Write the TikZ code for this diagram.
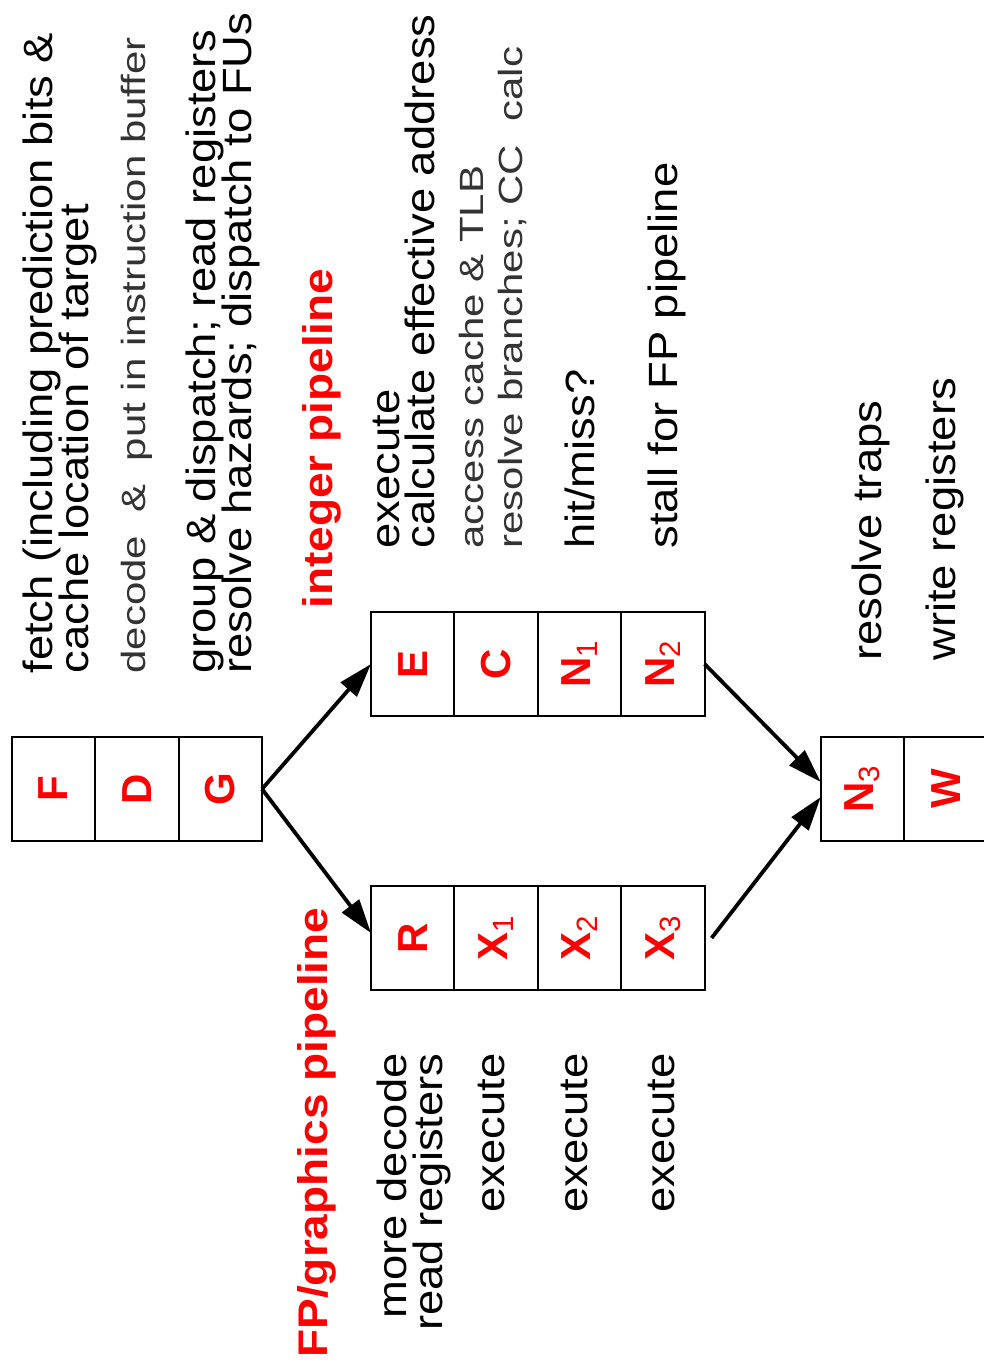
\documentclass[tikz,border=0pt]{standalone}
\usepackage{fontspec}
\setmainfont{Liberation Sans}
\usetikzlibrary{positioning,arrows.meta}
\definecolor{stagered}{RGB}{255,0,0}
\tikzset{
  cell/.style={draw, line width=1pt, minimum width=41.7pt, minimum height=52pt, inner sep=0pt, outer sep=0pt, text=stagered, font=\fontsize{21}{24}\selectfont\bfseries},
  note/.style={rotate=90, yscale=0.9, anchor=north west, align=left, inner sep=0pt, font=\fontsize{22.7}{19.5}\selectfont},
  thinnote/.style={rotate=90, yscale=0.8, anchor=north west, align=left, inner sep=0pt, text=black!80, font=\fontsize{21}{24.5}\selectfont},
  pipe/.style={note, text=stagered, font=\fontsize{23}{19.5}\selectfont\bfseries},
  flow/.style={-{Triangle[length=17pt, width=10.5pt]}, line width=1.9pt}
}
\begin{document}
\lineskiplimit=-100pt
\begin{tikzpicture}[x=0.5pt, y=-0.5pt]
	\useasboundingbox (0,0) rectangle (984,1372);
	\node[cell] (F) at (53.5,789) {\rotatebox{90}{F}};
	\node[cell, right=0pt of F] (D) {\rotatebox{90}{D}};
	\node[cell, right=0pt of D] (G) {\rotatebox{90}{G}};
	\node[cell] (E) at (412.7,664) {\rotatebox{90}{E}};
	\node[cell, right=0pt of E] (C) {\rotatebox{90}{C}};
	\node[cell, right=0pt of C] (N1) {\rotatebox{90}{N\textsubscript{\mdseries 1}}};
	\node[cell, right=0pt of N1] (N2) {\rotatebox{90}{N\textsubscript{\mdseries 2}}};
	\node[cell] (R) at (412.7,938) {\rotatebox{90}{R}};
	\node[cell, right=0pt of R] (X1) {\rotatebox{90}{X\textsubscript{\mdseries 1}}};
	\node[cell, right=0pt of X1] (X2) {\rotatebox{90}{X\textsubscript{\mdseries 2}}};
	\node[cell, right=0pt of X2] (X3) {\rotatebox{90}{X\textsubscript{\mdseries 3}}};
	\node[cell] (N3) at (862.5,789) {\rotatebox{90}{N\textsubscript{\mdseries 3}}};
	\node[cell, right=0pt of N3] (W) {\rotatebox{90}{W}};
	\draw[flow] (G.east) -- (E.west);
	\draw[flow] (G.east) -- ([yshift=2.5pt]R.west);
	\draw[flow] (N2.east) -- ([yshift=3.5pt]N3.west);
	\draw[flow] ([xshift=3.5pt]X3.east) -- ([yshift=-4pt]N3.west);
	\node[note] (fetchtxt) at (23,674) {fetch (including prediction bits \&\\cache location of target};
	\node[thinnote] (decodetxt) at (121,674) {decode\ \ \&\ \ put in instruction buffer};
	\node[note] (grouptxt) at (186,674) {group \& dispatch; read registers\\resolve hazards; dispatch to FUs};
	\node[pipe] (inttxt) at (302,609) {integer pipeline};
	\node[note] (exectxt) at (373,549) {execute\\calculate effective address};
	\node[thinnote] (accesstxt) at (459,549) {access cache \& TLB\\resolve branches; CC\ \ calc};
	\node[note] (hittxt) at (565,549) {hit/miss?};
	\node[note] (stalltxt) at (648,549) {stall for FP pipeline};
	\node[note] (trapstxt) at (852,661) {resolve traps};
	\node[note] (writetxt) at (926,661) {write registers};
	\node[pipe] (fptxt) at (297,1358) {FP/graphics pipeline};
	\node[note, anchor=north east, align=right] (moretxt) at (377,1053) {more decode\\read registers};
	\node[note, anchor=north east] (exaa) at (478,1053) {execute};
	\node[note, anchor=north east] (exbb) at (561,1053) {execute};
	\node[note, anchor=north east] (excc) at (648,1053) {execute};
\end{tikzpicture}
\end{document}
